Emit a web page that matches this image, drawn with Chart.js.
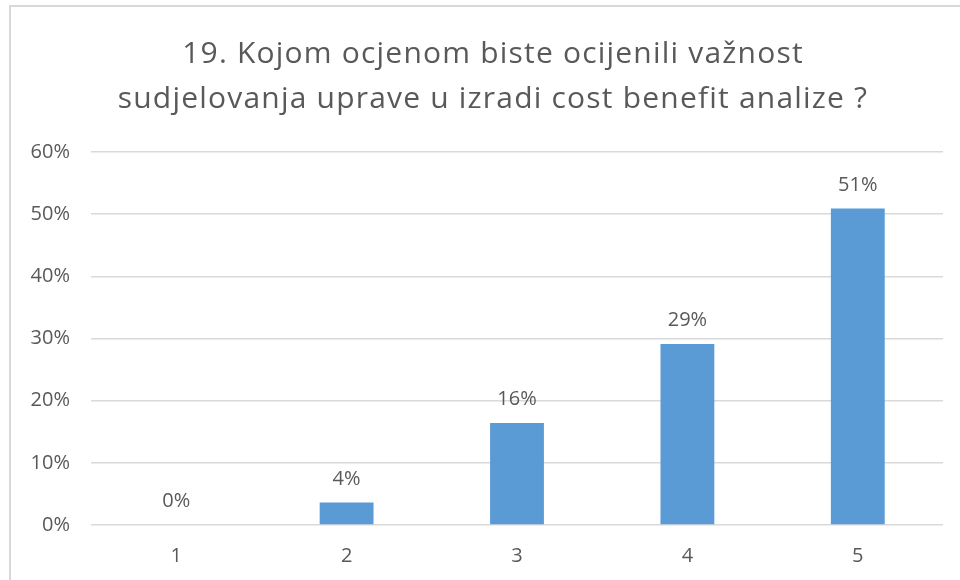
<!DOCTYPE html>
<html lang="hr">
<head>
    <meta charset="UTF-8">
    <title>19. Kojom ocjenom biste ocijenili važnost</title>
    <style>
        body {
            margin: 0;
            background: #fff;
            width: 960px;
            height: 580px;
            overflow: hidden;
            position: relative;
        }
        #frame {
            position: absolute;
            left: 9px;
            top: 5px;
            width: 960px;
            height: 590px;
            border-left: 2px solid #d9d9d9;
            border-top: 2px solid #d9d9d9;
        }
        #chart-container {
            position: absolute;
            left: 0;
            top: 0;
            width: 960px;
            height: 580px;
        }
    </style>
</head>
<body>
    <div id="frame"></div>
    <div id="chart-container">
        <canvas id="gradeChart"></canvas>
    </div>

    <script src="https://cdn.jsdelivr.net/npm/chart.js"></script>
    <script>
        var titleLines = ['19. Kojom ocjenom biste ocijenili važnost', 'sudjelovanja uprave u izradi cost benefit analize ?'];
        var grades = ['1', '2', '3', '4', '5'];
        var shares = [0, 3.6, 16.4, 29.1, 50.9];   // % of answers

        var textColor = '#595959';
        var gridColor = '#d9d9d9';
        var fontName = 'Open Sans';

        // title is drawn by hand so it can sit a bit left of the plot centre, like the original
        var chartTitle = {
            id: 'chartTitle',
            afterDraw: function (chart) {
                var ctx = chart.ctx;
                ctx.save();
                ctx.font = '30px "' + fontName + '"';
                ctx.letterSpacing = '1.2px';
                ctx.fillStyle = textColor;
                ctx.textAlign = 'center';
                ctx.textBaseline = 'alphabetic';
                titleLines.forEach(function (line, i) {
                    ctx.fillText(line, 493, 63 + i * 45);
                });
                ctx.restore();
            }
        };

        // value labels above the bars
        var barLabels = {
            id: 'barLabels',
            afterDatasetsDraw: function (chart) {
                var ctx = chart.ctx;
                var meta = chart.getDatasetMeta(0);
                ctx.save();
                ctx.font = '20px "' + fontName + '"';
                ctx.fillStyle = textColor;
                ctx.textAlign = 'center';
                ctx.textBaseline = 'alphabetic';
                meta.data.forEach(function (bar, i) {
                    ctx.fillText(Math.round(shares[i]) + '%', bar.x, bar.y - 18);
                });
                ctx.restore();
            }
        };

        var ctx = document.getElementById('gradeChart').getContext('2d');
        var gradeChart = new Chart(ctx, {
            type: 'bar',
            data: {
                labels: grades,
                datasets: [{
                    data: shares,
                    backgroundColor: '#5b9bd5',
                    borderWidth: 0,
                    categoryPercentage: 1,
                    barPercentage: 0.316
                }]
            },
            options: {
                responsive: true,
                maintainAspectRatio: false,
                animation: false,
                layout: { padding: { left: 0, right: 17, top: 152, bottom: 0 } },
                plugins: {
                    legend: { display: false },
                    tooltip: { enabled: false },
                    title: { display: false }
                },
                scales: {
                    x: {
                        grid: { display: false, drawTicks: false },
                        border: { display: false },
                        ticks: { color: textColor, font: { family: fontName, size: 20 }, padding: 19 },
                        afterFit: function (scale) { scale.height = 55; }
                    },
                    y: {
                        min: 0,
                        max: 60,
                        grid: { color: gridColor, lineWidth: 1.5, drawTicks: false },
                        border: { display: false },
                        ticks: {
                            stepSize: 10,
                            color: textColor,
                            font: { family: fontName, size: 20 },
                            padding: 21,
                            callback: function (v) { return v + '%'; }
                        },
                        afterFit: function (scale) { scale.width = 91; }
                    }
                }
            },
            plugins: [barLabels, chartTitle]
        });
    </script>
</body>
</html>
